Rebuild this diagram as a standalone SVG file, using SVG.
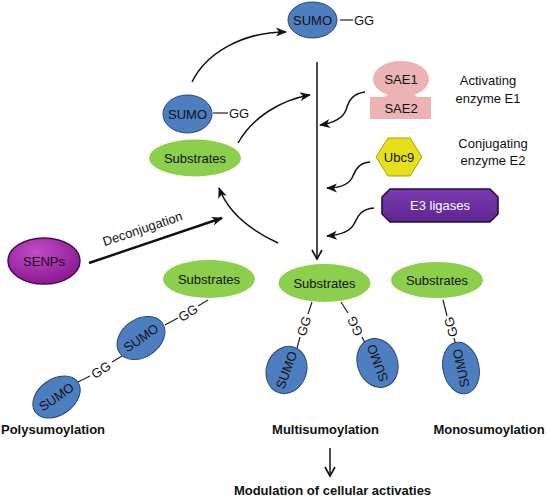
<svg xmlns="http://www.w3.org/2000/svg" width="547" height="498" viewBox="0 0 547 498">
<style>
text{font-family:"Liberation Sans",Arial,sans-serif;font-size:13px;fill:#111;text-anchor:middle}
.b{font-weight:bold}
.sumo{fill:#4d7fc0;stroke:#2b4470;stroke-width:1}
.sub{fill:#8ccf4c}
.ln{stroke:#222;stroke-width:1.2;fill:none}
.arr{stroke:#111;stroke-width:1.5;fill:none;marker-end:url(#ah)}
.varr{stroke:#111;stroke-width:1.5;fill:none;marker-end:url(#av)}
</style>
<defs>
<marker id="ah" markerUnits="userSpaceOnUse" markerWidth="12" markerHeight="10" refX="10" refY="4.5" orient="auto" overflow="visible">
<path d="M0,0 L11,4.5 L0,9 L3,4.5 z" fill="#111"/>
</marker>
<marker id="av" markerUnits="userSpaceOnUse" markerWidth="12" markerHeight="12" refX="9" refY="5" orient="auto" overflow="visible">
<path d="M0,0 L9,5 L0,10" fill="none" stroke="#111" stroke-width="1.6"/>
</marker>
<radialGradient id="gS" cx="0.4" cy="0.3" r="0.7">
<stop offset="0" stop-color="#c24bc8"/>
<stop offset="1" stop-color="#8c1a93"/>
</radialGradient>
<linearGradient id="gE" x1="0" y1="0" x2="0" y2="1">
<stop offset="0" stop-color="#7a3ab0"/>
<stop offset="1" stop-color="#5e2590"/>
</linearGradient>
</defs>

<g id="connectors">
<path class="arr" d="M192,82 C205,55 240,32 286,32"/>
<path class="arr" d="M238,143 C252,118 280,100 310,95"/>
<path class="arr" d="M278,243 C250,230 228,212 219,188"/>
<path class="arr" d="M89,263 L222,218" style="stroke-width:2.4"/>
<path class="varr" d="M317,62 L317,259"/>
<path class="arr" d="M365,92 C350,94 348,104 346,110 C343,118 333,123 320,125"/>
<path class="arr" d="M370,162 C357,163 355,172 352,178 C348,185 338,188 327,188"/>
<path class="arr" d="M374,208 C360,209 357,218 354,224 C350,232 340,235 327,236"/>
<path class="varr" d="M330,448 L330,476"/>
<path class="ln" d="M340,20 L353,20"/>
<path class="ln" d="M213,113 L228,113"/>
<path class="ln" d="M208,300 L198,306 M178,318 L165,325 M122,356 L112,362 M90,376 L78,382"/>
<path class="ln" d="M312,302 L308,314 M300,337 L297,348"/>
<path class="ln" d="M341,302 L348,313 M362,337 L366,345"/>
<path class="ln" d="M443,300 L447,316 M454,338 L456,346"/>
</g>

<g id="sumo-top">
<ellipse class="sumo" cx="312.5" cy="20" rx="24.5" ry="18"/>
<text x="312.5" y="25">SUMO</text>
<text x="364" y="25">GG</text>
</g>

<g id="sumo-free">
<ellipse class="sumo" cx="187.5" cy="114" rx="24.5" ry="19"/>
<text x="187.5" y="119">SUMO</text>
<text x="239" y="118">GG</text>
</g>

<g id="substrates-left">
<ellipse class="sub" cx="195" cy="158" rx="46" ry="18.5"/>
<text x="195" y="163">Substrates</text>
</g>

<g id="senps">
<ellipse cx="44" cy="261" rx="36" ry="23" fill="url(#gS)" stroke="#4a0a50" stroke-width="1.5"/>
<text x="44" y="266">SENPs</text>
</g>

<g id="deconj-label">
<text transform="translate(144,233) rotate(-18.5)">Deconjugation</text>
</g>

<g id="sae">
<ellipse cx="401" cy="79" rx="28" ry="18" fill="#ebb3b3"/>
<path d="M384,97 Q392,93 392,90 L410,90 Q410,93 418,97 Z" fill="#ebb3b3"/>
<rect x="370" y="97" width="61" height="22" fill="#ebb3b3"/>
<text x="401" y="84">SAE1</text>
<text x="401" y="113">SAE2</text>
</g>
<g id="e1-label">
<text x="488" y="85">Activating</text>
<text x="488" y="103">enzyme E1</text>
</g>

<g id="ubc9">
<polygon points="376,157 388,138 410,138 422,157 410,176 388,176" fill="#e6e01c" stroke="#a8a012" stroke-width="1"/>
<text x="399" y="162">Ubc9</text>
</g>
<g id="e2-label">
<text x="493" y="148">Conjugating</text>
<text x="493" y="165">enzyme E2</text>
</g>

<g id="e3">
<path d="M390,189 L490,189 L498,197 L498,214 L490,222 L390,222 L382,214 L382,197 Z" fill="url(#gE)" stroke="#24103a" stroke-width="1.6"/>
<text x="440" y="210" style="fill:#fff">E3 ligases</text>
</g>

<g id="poly">
<ellipse class="sub" cx="209" cy="279" rx="46" ry="19"/>
<text x="209" y="284">Substrates</text>
<text transform="translate(188,313) rotate(-33)" y="4.5">GG</text>
<g transform="translate(141,338) rotate(-35)">
<ellipse class="sumo" rx="26" ry="19"/>
<text y="4.5">SUMO</text>
</g>
<text transform="translate(101,370) rotate(-33)" y="4.5">GG</text>
<g transform="translate(56.5,397) rotate(-35)">
<ellipse class="sumo" rx="26" ry="18"/>
<text y="4.5">SUMO</text>
</g>
</g>

<g id="multi">
<ellipse class="sub" cx="324.5" cy="283" rx="46" ry="19"/>
<text x="324.5" y="288">Substrates</text>
<text transform="translate(304,326) rotate(-72)" y="4.5">GG</text>
<g transform="translate(286.5,370) rotate(-70)">
<ellipse class="sumo" rx="24" ry="20"/>
<text y="4.5">SUMO</text>
</g>
<text transform="translate(355,326) rotate(-114)" y="4.5">GG</text>
<g transform="translate(377.5,363) rotate(-110)">
<ellipse class="sumo" rx="25" ry="20"/>
<text y="4.5">SUMO</text>
</g>
</g>

<g id="mono">
<ellipse class="sub" cx="437" cy="280" rx="46" ry="18"/>
<text x="437" y="285">Substrates</text>
<text transform="translate(451,327) rotate(-105)" y="4.5">GG</text>
<g transform="translate(461,368) rotate(-102)">
<ellipse class="sumo" rx="26" ry="18"/>
<text y="4.5">SUMO</text>
</g>
</g>

<g id="labels">
<text class="b" x="1" y="434" style="text-anchor:start">Polysumoylation</text>
<text class="b" x="325.5" y="434">Multisumoylation</text>
<text class="b" x="489" y="434">Monosumoylation</text>
<text class="b" x="332.5" y="495">Modulation of cellular activaties</text>
</g>
</svg>
